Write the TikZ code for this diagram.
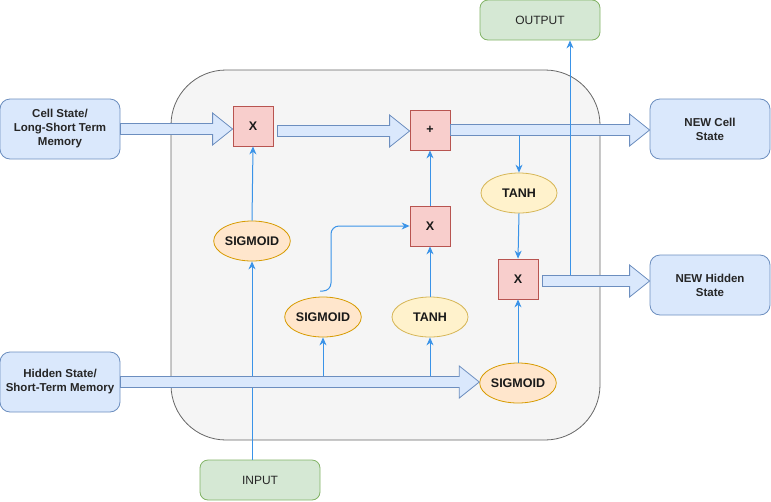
\documentclass[tikz,border=0pt]{standalone}
\usepackage{fontspec}
\setmainfont{Liberation Sans}
\usetikzlibrary{calc,arrows.meta,shapes.geometric}
\definecolor{bfill}{HTML}{DAE8FC}\definecolor{bdraw}{HTML}{6C8EBF}
\definecolor{gfill}{HTML}{D5E8D4}\definecolor{gdraw}{HTML}{82B366}
\definecolor{rfill}{HTML}{F8CECC}\definecolor{rdraw}{HTML}{B85450}
\definecolor{yfill}{HTML}{FFF2CC}\definecolor{ydraw}{HTML}{D6B656}
\definecolor{ofill}{HTML}{FFE6CC}\definecolor{odraw}{HTML}{D79B00}
\definecolor{cfill}{HTML}{F5F5F5}\definecolor{cdraw}{HTML}{666666}
\definecolor{lblue}{HTML}{3A93E8}
\newcommand\fatarrow[2]{\path[fat] let \p1=(#1), \p2=(#2) in
  (\x1,{\y1+5.5pt}) -- ({\x2-20pt},{\y1+5.5pt}) -- ({\x2-20pt},{\y1+16pt}) -- (\x2,\y1)
  -- ({\x2-20pt},{\y1-16pt}) -- ({\x2-20pt},{\y1-5.5pt}) -- (\x1,{\y1-5.5pt}) -- cycle;}
\begin{document}
\begin{tikzpicture}[x=1pt,y=-1pt,
  lbl/.style={font=\fontsize{11.5}{14}\selectfont\bfseries, align=center, text=black!85},
  slbl/.style={font=\fontsize{12.5}{14}\selectfont\bfseries, align=center, text=black!90},
  iobox/.style={draw=bdraw, fill=bfill, rounded corners=10pt, minimum width=120pt, minimum height=60pt, inner sep=0pt, lbl, line width=0.8pt},
  gbox/.style={draw=gdraw, fill=gfill, rounded corners=8pt, minimum width=120pt, minimum height=40pt, inner sep=0pt, font=\fontsize{12}{14}\selectfont, text=black!85, line width=0.8pt},
  opbox/.style={draw=rdraw, fill=rfill, minimum size=40pt, inner sep=0pt, slbl, line width=0.8pt},
  sigm/.style={ellipse, draw=odraw, fill=ofill, minimum width=76pt, minimum height=40pt, inner sep=0pt, slbl, line width=0.8pt},
  tanhe/.style={ellipse, draw=ydraw, fill=yfill, minimum width=76pt, minimum height=40pt, inner sep=0pt, slbl, line width=0.8pt},
  fat/.style={draw=bdraw, fill=bfill, line width=0.8pt},
  thinarr/.style={draw=lblue, line width=1pt, -{Stealth[length=8pt,width=7pt]}},
  thinline/.style={draw=lblue, line width=1pt}]
\useasboundingbox (0,0) rectangle (771,501);
\draw[draw=cdraw, fill=cfill, rounded corners=55pt, line width=0.8pt] (171,70) rectangle (600,440);

\node[iobox] (cs) at (60,129) {Cell State/\\Long-Short Term\\Memory};
\node[iobox] (hs) at (60,382) {Hidden State/\\Short-Term Memory};
\node[iobox] (nc) at (710,129) {NEW Cell\\State};
\node[iobox] (nh) at (710,285) {NEW Hidden\\State};
\node[gbox] (in) at (260,480) {INPUT};
\node[gbox] (out) at (540,20) {OUTPUT};

\node[opbox] (x1) at (253,126) {X};
\node[opbox] (plus) at (430,130) {+};
\node[opbox] (x2) at (430,226) {X};
\node[opbox] (x3) at (518,279) {X};

\node[sigm] (sg1) at (252,241) {SIGMOID};
\node[sigm] (sg2) at (323,317) {SIGMOID};
\node[tanhe] (th1) at (430,317) {TANH};
\node[tanhe] (th2) at (519,193) {TANH};
\node[sigm] (sg3) at (518,383) {SIGMOID};

\coordinate (inb) at (252,460);
\draw[thinarr] (inb) -- (sg1.south);

\fatarrow{cs.east}{x1.west}
\fatarrow{$(x1.east)+(4,5)$}{plus.west}
\fatarrow{plus.east}{nc.west}
\fatarrow{$(x3.east)+(4,2)$}{nh.west}
\fatarrow{hs.east}{sg3.west}

\coordinate (h2) at (323,376);
\coordinate (h3) at (430,376);
\coordinate (s2o) at (320,291);
\coordinate (pc) at (519,135);
\coordinate (oc) at (570,275);

\draw[thinarr] (sg1.north) -- (x1.south);
\draw[thinarr] (h2) -- (sg2.south);
\draw[thinarr] (h3) -- (th1.south);
\draw[thinarr, rounded corners=8pt] (s2o) -- (331,291) -- (331,226) -- (x2.west);
\draw[thinarr] (th1.north) -- (x2.south);
\draw[thinarr] (x2.north) -- (plus.south);
\draw[thinarr] (pc) -- (th2.north);
\draw[thinarr] (th2.south) -- (x3.north);
\draw[thinarr] (sg3.north) -- (x3.south);
\draw[thinarr] (oc) -- (oc |- out.south);
\end{tikzpicture}
\end{document}
